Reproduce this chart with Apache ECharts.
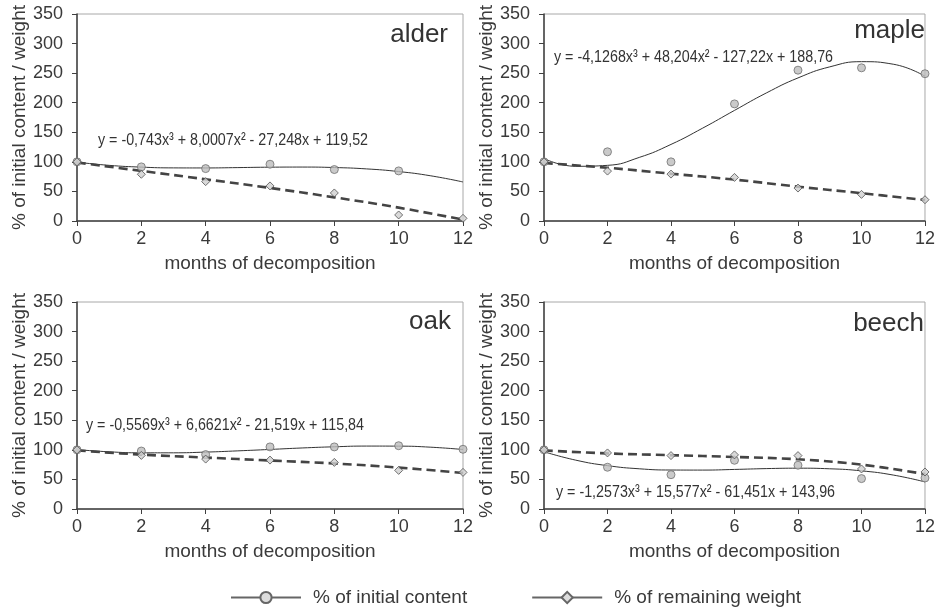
<!DOCTYPE html>
<html><head><meta charset="utf-8">
<script src="https://cdn.jsdelivr.net/npm/echarts@6/dist/echarts.min.js"></script>
<style>html,body{margin:0;padding:0;background:#fff}#c{width:938px;height:612px}</style>
</head><body><div id="c"></div>
<script>
const months = [0, 2, 4, 6, 8, 10, 12];
const trendMonths = [0, 1, 2, 3, 4, 5, 6, 7, 8, 9, 10, 11, 12];
const xTicks = ['0', '2', '4', '6', '8', '10', '12'];
const yTicks = ['0', '50', '100', '150', '200', '250', '300', '350'];

const panelNames = ['alder', 'maple', 'oak', 'beech'];
const equations = [
  'y = -0,743x³ + 8,0007x² - 27,248x + 119,52',
  'y = -4,1268x³ + 48,204x² - 127,22x + 188,76',
  'y = -0,5569x³ + 6,6621x² - 21,519x + 115,84',
  'y = -1,2573x³ + 15,577x² - 61,451x + 143,96'
];
const seriesNames = ['% of initial content', '% of remaining weight'];

const alderContent = [100, 91.5, 88.6, 96, 87, 84.7, null];
const alderWeight = [100, 79, 66.6, 59.3, 47.4, 10.2, 4.5];
const alderContentTrend = [99.5, 94.1, 91.1, 89.8, 89.7, 90.3, 91.0, 91.2, 90.4, 88.1, 83.6, 76.4, 66.0];
const alderWeightTrend = [99, 84.7, 70.6, 55.9, 40, 22.6, 2.3];

const mapleContent = [100, 117, 100, 198, 255, 259, 249];
const mapleWeight = [100, 84.4, 79.3, 73.7, 55.7, 45, 36];
const mapleContentTrend = [105.6, 92.5, 94.1, 107.5, 129.5, 157.1, 187.0, 216.4, 241.9, 260.6, 269.4, 265.1, 244.7];
const mapleWeightTrend = [98, 90, 80, 70, 58, 47, 35.5];

const oakContent = [100, 98, 92, 105, 105, 107, 101];
const oakWeight = [100, 90.6, 84.4, 82.7, 78.8, 65.3, 61.9];
const oakContentTrend = [100.4, 96.7, 95.0, 95.0, 96.2, 98.3, 100.7, 103.2, 105.2, 106.4, 106.3, 104.5, 100.6];
const oakWeightTrend = [99, 92, 87, 82, 77, 70, 61];

const beechContent = [100, 70.6, 58, 82.4, 74, 51.4, 52.5];
const beechWeight = [100, 94.8, 90.3, 91.5, 90.3, 67.7, 62.6];
const beechContentTrend = [96.8, 82.6, 73.3, 68.0, 65.9, 65.8, 66.9, 68.3, 69.0, 68.0, 64.5, 57.4, 45.8];
const beechWeightTrend = [99, 94, 91, 88, 84, 75, 59];

const panels = [
  [alderContent, alderWeight, alderContentTrend, alderWeightTrend],
  [mapleContent, mapleWeight, mapleContentTrend, mapleWeightTrend],
  [oakContent, oakWeight, oakContentTrend, oakWeightTrend],
  [beechContent, beechWeight, beechContentTrend, beechWeightTrend]
];

const FONT = '"Liberation Sans", Arial, sans-serif';
const TXT = '#3a3a3a';
const gridPos = [
  {left: 77, top: 14}, {left: 544, top: 14},
  {left: 77, top: 302}, {left: 544, top: 302}
];
const titlePos = [[448, 35], [925, 31], [451, 322], [924, 324]];
const eqPos = [[98, 140], [554, 57], [86, 425], [556, 492]];

function pairs(xs, ys) {
  const out = [];
  xs.forEach((x, i) => { if (ys[i] !== null && ys[i] !== undefined) out.push([x, ys[i]]); });
  return out;
}

const grids = [], xAxes = [], yAxes = [], series = [], graphics = [];
panels.forEach((p, i) => {
  grids.push({left: gridPos[i].left, top: gridPos[i].top, width: 386, height: 207,
    show: true, borderColor: '#a8a8a8', borderWidth: 1, backgroundColor: '#fff'});
  xAxes.push({type: 'value', gridIndex: i, min: 0, max: 12, interval: 2,
    name: 'months of decomposition', nameLocation: 'middle', nameGap: 33,
    nameTextStyle: {fontFamily: FONT, fontSize: 19, color: TXT},
    axisLine: {show: true, lineStyle: {color: '#404040', width: 1.5}},
    axisTick: {show: true, length: 5, lineStyle: {color: '#404040'}},
    axisLabel: {fontFamily: FONT, fontSize: 18, color: TXT, margin: 9,
      formatter: v => xTicks[months.indexOf(v)] ?? ''},
    splitLine: {show: false}});
  yAxes.push({type: 'value', gridIndex: i, min: 0, max: 350, interval: 50,
    name: '% of initial content / weight', nameLocation: 'middle', nameGap: 47,
    nameTextStyle: {fontFamily: FONT, fontSize: 19, color: TXT},
    axisLine: {show: true, lineStyle: {color: '#404040', width: 1.5}},
    axisTick: {show: true, length: 5, lineStyle: {color: '#404040'}},
    axisLabel: {fontFamily: FONT, fontSize: 18, color: TXT, margin: 14,
      formatter: v => yTicks[v / 50] ?? ''},
    splitLine: {show: false}});
  series.push({type: 'line', xAxisIndex: i, yAxisIndex: i, smooth: 0.5, symbol: 'none',
    data: pairs(trendMonths, p[2]), lineStyle: {color: '#333', width: 1}, z: 2, silent: true});
  series.push({type: 'line', xAxisIndex: i, yAxisIndex: i, smooth: 0.4, symbol: 'none',
    data: pairs(months, p[3]), lineStyle: {color: '#444', width: 2.6, type: [9, 5]}, z: 2, silent: true});
  series.push({type: 'scatter', xAxisIndex: i, yAxisIndex: i, symbol: 'circle', symbolSize: 8,
    data: pairs(months, p[0]), itemStyle: {color: '#bdbdbd', borderColor: '#707070', borderWidth: 1}, z: 4});
  series.push({type: 'scatter', xAxisIndex: i, yAxisIndex: i, symbol: 'diamond', symbolSize: 8,
    data: pairs(months, p[1]), itemStyle: {color: '#cfcfcf', borderColor: '#505050', borderWidth: 1}, z: 5});
  graphics.push({type: 'text', x: titlePos[i][0], y: titlePos[i][1], z: 10,
    style: {text: panelNames[i], fill: '#333', font: '26px ' + FONT,
      textAlign: 'right', textVerticalAlign: 'middle', align: 'right', verticalAlign: 'middle'}});
  graphics.push({type: 'text', x: eqPos[i][0], y: eqPos[i][1], z: 10, scaleX: 0.84,
    style: {text: equations[i], fill: '#333', font: '17px ' + FONT,
      textAlign: 'left', textVerticalAlign: 'middle', align: 'left', verticalAlign: 'middle'}});
});

// legend-only series
series.push({type: 'line', name: seriesNames[0], xAxisIndex: 0, yAxisIndex: 0, data: [],
  symbol: 'circle', symbolSize: 12, lineStyle: {color: '#666', width: 1},
  itemStyle: {color: '#dcdcdc', borderColor: '#666', borderWidth: 1}});
series.push({type: 'line', name: seriesNames[1], xAxisIndex: 0, yAxisIndex: 0, data: [],
  symbol: 'diamond', symbolSize: 13, lineStyle: {color: '#666', width: 1},
  itemStyle: {color: '#dcdcdc', borderColor: '#666', borderWidth: 1}});

const chart = echarts.init(document.getElementById('c'), null, {renderer: 'canvas'});
chart.setOption({
  animation: false,
  backgroundColor: '#fff',
  grid: grids, xAxis: xAxes, yAxis: yAxes,
  legend: {data: seriesNames.map(n => ({name: n})), left: 230, top: 588, padding: 0,
    itemWidth: 70, itemHeight: 14, itemGap: 64,
    textStyle: {fontFamily: FONT, fontSize: 19, color: TXT, padding: [0, 0, 0, 7]}},
  series: series,
  graphic: graphics
});
</script></body></html>
